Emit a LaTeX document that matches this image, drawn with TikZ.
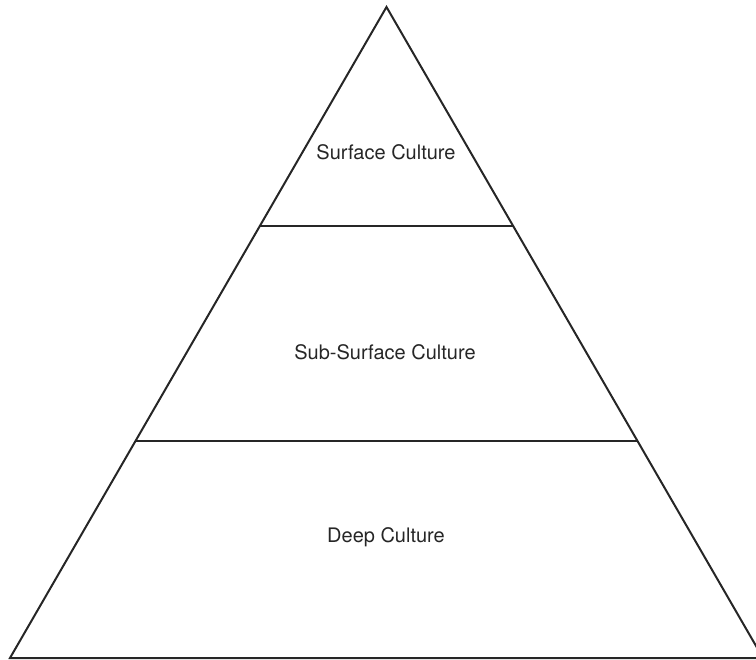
\documentclass[tikz,border=0pt]{standalone}
\usepackage{fontspec}
\setmainfont{TeX Gyre Heros}
\usetikzlibrary{calc}

\begin{document}
\begin{tikzpicture}[
    x=1pt, y=-1pt, % pixel-like units, y downwards
    side/.style={line width=2pt, black!85}, % Style for the triangle sides
    layer line/.style={line width=2pt, black!85}, % Style for the dividing lines
    layer label/.style={font=\fontsize{20}{24}\selectfont, text=black!85} % Style for the layer names
  ]

  % --- Frame ---
  \useasboundingbox (0,0) rectangle (756,660);
  \clip (0,0) rectangle (756,660);

  % --- Coordinates ---
  \coordinate (apex) at (386.5,7); % Top of the pyramid
  \coordinate (base_left) at (10,658); % Bottom left corner
  \coordinate (base_right) at (763,658); % Bottom right corner (cut by the frame)

  % --- Pyramid ---
  \draw[side, line join=miter] (base_left) -- (apex) -- (base_right) -- cycle;

  % --- Dividing lines ---
  \coordinate (upper_left) at ($(base_left)!0.6636!(apex)$);
  \coordinate (upper_right) at ($(base_right)!0.6636!(apex)$);
  \coordinate (lower_left) at ($(base_left)!0.3333!(apex)$);
  \coordinate (lower_right) at ($(base_right)!0.3333!(apex)$);
  \draw[layer line] (upper_left) -- (upper_right);
  \draw[layer line] (lower_left) -- (lower_right);

  % --- Labels ---
  \node[layer label] (surface) at (386,152) {Surface Culture};
  \node[layer label] (subsurface) at (385,352) {Sub-Surface Culture};
  \node[layer label] (deep) at (386,537) {Deep Culture};

\end{tikzpicture}
\end{document}
